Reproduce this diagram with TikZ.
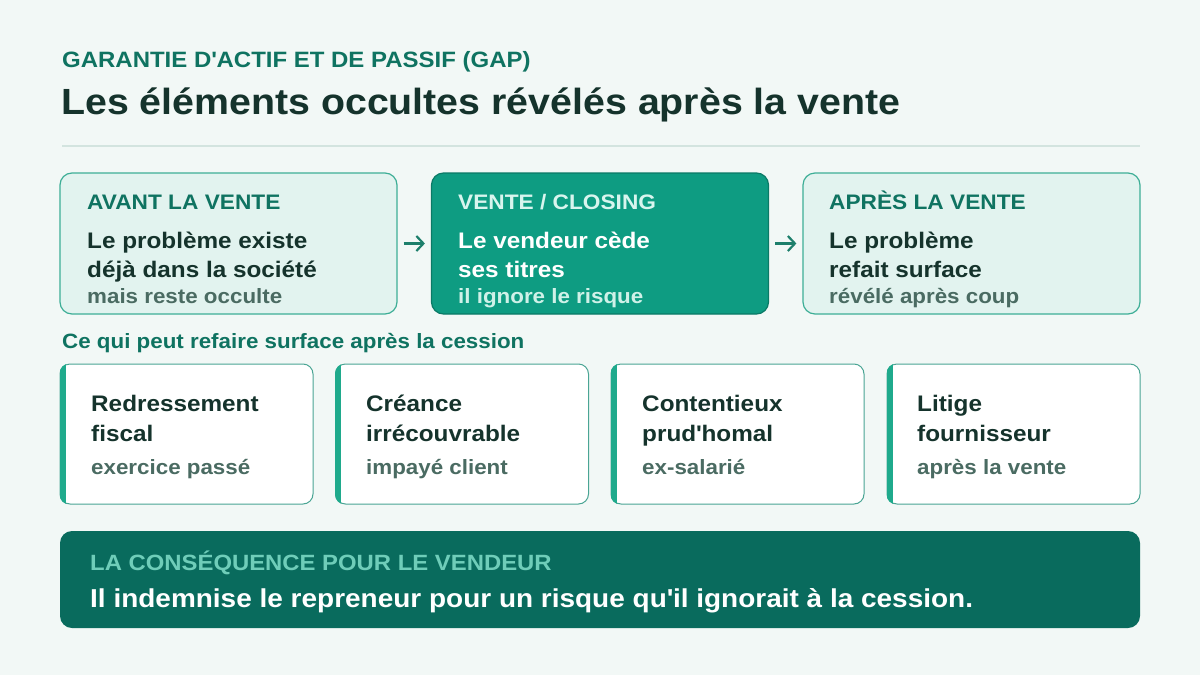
\documentclass[tikz,border=0pt]{standalone}
\usepackage{fontspec}
\setmainfont{Liberation Sans}[FakeStretch=1.08]
\usetikzlibrary{positioning, arrows.meta}

\definecolor{pagebg}{HTML}{F2F8F6}
\definecolor{rulecol}{HTML}{D3E4DF}
\definecolor{headteal}{HTML}{0F7361}
\definecolor{ink}{HTML}{15332C}
\definecolor{muted}{HTML}{4A6B62}
\definecolor{boxfill}{HTML}{E2F3EF}
\definecolor{boxline}{HTML}{3DAE96}
\definecolor{closefill}{HTML}{0E9C82}
\definecolor{closeline}{HTML}{0A7A66}
\definecolor{closehead}{HTML}{D8F5EE}
\definecolor{closenote}{HTML}{CFF1E8}
\definecolor{arrowteal}{HTML}{1D7F6B}
\definecolor{cardline}{HTML}{4AA594}
\definecolor{cardbar}{HTML}{1FAA8C}
\definecolor{bannerfill}{HTML}{096B5D}
\definecolor{bannerhead}{HTML}{6FCDB9}

\begin{document}
\begin{tikzpicture}[
  x=1pt, y=-1pt,
  every node/.style={inner sep=0pt, anchor=base west},
  phase/.style={draw=boxline, fill=boxfill, rounded corners=12pt, line width=1.2pt,
    minimum width=337pt, minimum height=141pt, anchor=center},
  closing/.style={phase, draw=closeline, fill=closefill},
  card/.style={draw=cardline, fill=white, rounded corners=10pt, line width=1pt,
    minimum width=253pt, minimum height=140pt, anchor=center},
  banner/.style={fill=bannerfill, rounded corners=12pt,
    minimum width=1080pt, minimum height=97pt, anchor=center},
  kicker/.style={font=\fontsize{21}{24}\selectfont\bfseries, text=headteal},
  lead/.style={font=\fontsize{22.5}{26}\selectfont\bfseries, text=ink},
  note/.style={font=\fontsize{20.7}{24}\selectfont\bfseries, text=muted},
  arrow/.style={draw=arrowteal, line width=2.2pt, -{Straight Barb[length=7pt, width=15pt]},
    shorten >=6pt, shorten <=6pt}]

  \fill[pagebg] (0,0) rectangle (1200,675);
  \useasboundingbox (0,0) rectangle (1200,675);

  % heading
  \node[kicker, font=\fontsize{22.2}{26}\selectfont\bfseries] (gap) at (62,67) {GARANTIE D\textquotesingle ACTIF ET DE PASSIF (GAP)};
  \node[text=ink, font=\fontsize{36.4}{42}\selectfont\bfseries] (title) at (61,114) {Les éléments occultes révélés après la vente};
  \draw[rulecol, line width=1.2pt] (62,146) -- (1140,146);

  % the three phases
  \node[phase]   (avant) at (228.5,243.5) {};
  \node[closing] (vente) at (600,243.5) {};
  \node[phase]   (apres) at (971.5,243.5) {};

  \node[kicker] (avanthd) at (87,209) {AVANT LA VENTE};
  \node[lead]   (avant1)  at (87,248) {Le problème existe};
  \node[lead]   (avant2)  at (87,277) {déjà dans la société};
  \node[note]   (avant3)  at (87,303) {mais reste occulte};

  \node[kicker, text=closehead] (ventehd) at (458,209) {VENTE / CLOSING};
  \node[lead, text=white]       (vente1)  at (458,248) {Le vendeur cède};
  \node[lead, text=white]       (vente2)  at (458,277) {ses titres};
  \node[note, text=closenote]   (vente3)  at (458,303) {il ignore le risque};

  \node[kicker] (apreshd) at (829,209) {APRÈS LA VENTE};
  \node[lead]   (apres1)  at (829,248) {Le problème};
  \node[lead]   (apres2)  at (829,277) {refait surface};
  \node[note]   (apres3)  at (829,303) {révélé après coup};

  \draw[arrow] (avant) -- (vente);
  \draw[arrow] (vente) -- (apres);

  % what can come back
  \node[kicker, font=\fontsize{20.7}{24}\selectfont\bfseries] (cequi) at (62,348) {Ce qui peut refaire surface après la cession};

  \node[card] (fisc) at (186.5,434) {};
  \node[card] (cre)  at (462,434) {};
  \node[card] (prud) at (737.5,434) {};
  \node[card] (four) at (1013.5,434) {};

  \begin{scope}
    \clip[rounded corners=10pt] (fisc.north west) rectangle (fisc.south east);
    \fill[cardbar] (fisc.north west) rectangle ([xshift=6pt]fisc.south west);
  \end{scope}
  \begin{scope}
    \clip[rounded corners=10pt] (cre.north west) rectangle (cre.south east);
    \fill[cardbar] (cre.north west) rectangle ([xshift=6pt]cre.south west);
  \end{scope}
  \begin{scope}
    \clip[rounded corners=10pt] (prud.north west) rectangle (prud.south east);
    \fill[cardbar] (prud.north west) rectangle ([xshift=6pt]prud.south west);
  \end{scope}
  \begin{scope}
    \clip[rounded corners=10pt] (four.north west) rectangle (four.south east);
    \fill[cardbar] (four.north west) rectangle ([xshift=6pt]four.south west);
  \end{scope}

  \node[lead] (fisc1) at (91,411) {Redressement};
  \node[lead] (fisc2) at (91,441) {fiscal};
  \node[note] (fisc3) at (91,474) {exercice passé};

  \node[lead] (cre1) at (366,411) {Créance};
  \node[lead] (cre2) at (366,441) {irrécouvrable};
  \node[note] (cre3) at (366,474) {impayé client};

  \node[lead] (prud1) at (642,411) {Contentieux};
  \node[lead] (prud2) at (642,441) {prud\textquotesingle homal};
  \node[note] (prud3) at (642,474) {ex-salarié};

  \node[lead] (four1) at (917,411) {Litige};
  \node[lead] (four2) at (917,441) {fournisseur};
  \node[note] (four3) at (917,474) {après la vente};

  % consequence
  \node[banner] (cons) at (600,579.5) {};
  \node[kicker, text=bannerhead, font=\fontsize{22.1}{26}\selectfont\bfseries] (conshd) at (90,570) {LA CONSÉQUENCE POUR LE VENDEUR};
  \node[text=white, font=\fontsize{25.9}{30}\selectfont\bfseries] (constx) at (90,607) {Il indemnise le repreneur pour un risque qu\textquotesingle il ignorait à la cession.};

\end{tikzpicture}
\end{document}
